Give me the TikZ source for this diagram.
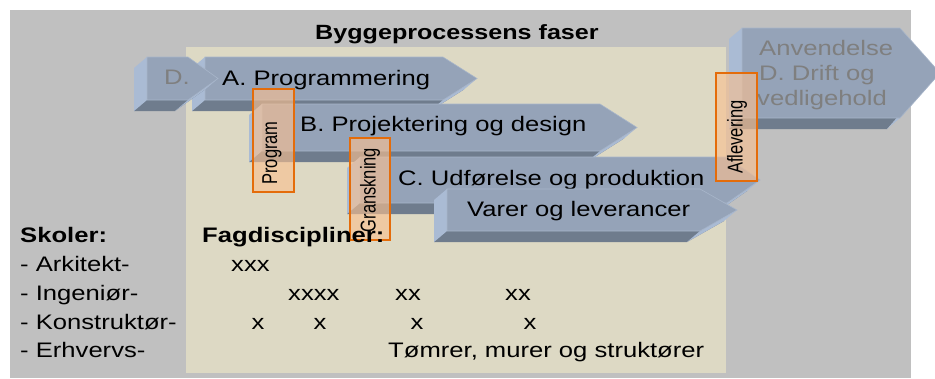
\documentclass[tikz,border=0pt]{standalone}
\usepackage{fontspec}
\setmainfont{Liberation Sans}[FakeStretch=1.22]
\newfontfamily\plainfont{Liberation Sans}
\usetikzlibrary{calc}
\definecolor{bggray}{HTML}{C0C0C0}
\definecolor{beige}{HTML}{DDD9C4}
\definecolor{frontface}{HTML}{95A3B8}
\definecolor{leftface}{HTML}{AABBD4}
\definecolor{darkface}{HTML}{6F7C8D}
\definecolor{edgecol}{HTML}{A8B6CA}
\definecolor{greytext}{HTML}{7F7F7F}
\definecolor{orangeline}{HTML}{E46C0A}
\definecolor{orangefill}{HTML}{FAC090}
\tikzset{
  txt/.style={font=\fontsize{21}{25}\selectfont, inner sep=0pt, anchor=base west, text=black},
  boldtxt/.style={txt, font=\fontsize{21}{25}\selectfont\bfseries},
  titletxt/.style={txt, font=\fontsize{20.6}{25}\selectfont\bfseries},
  gtxt/.style={txt, text=greytext},
  vbox/.style={draw=orangeline, line width=1.3pt, fill=orangefill, fill opacity=0.62},
  vtxt/.style={rotate=90, inner sep=0pt, font=\plainfont\fontsize{16.5}{18}\selectfont, text=black},
}
\newcommand\phasearrow[5]{%
  \pgfmathsetmacro\pmidy{(#4+#5)/2}%
  \fill[darkface] (#1-13,#4+11) -- (#2-13,#4+11) -- (#3-13,\pmidy+11) -- (#2-13,#5+11) -- (#1-13,#5+11) -- cycle;
  \fill[leftface] (#1,#4) -- (#1-13,#4+11) -- (#1-13,#5+11) -- (#1,#5) -- cycle;
  \fill[leftface] (#2,#5) -- (#3,\pmidy) -- (#3-13,\pmidy+11) -- (#2-13,#5+11) -- cycle;
  \fill[frontface, draw=edgecol, line width=0.6pt] (#1,#4) -- (#2,#4) -- (#3,\pmidy) -- (#2,#5) -- (#1,#5) -- cycle;
}
\begin{document}
\begin{tikzpicture}[x=1pt,y=-1pt]
\clip (0,0) rectangle (935,378);
\fill[white] (0,0) rectangle (935,378);
\fill[bggray] (10,10) rectangle (911,378);
\fill[beige] (186,47) rectangle (726,373);
\node[titletxt] (title) at (315,39) {Byggeprocessens faser};
% arrows
\phasearrow{205}{443}{477}{57}{100}
\node[txt] (a) at (222,85) {A. Programmering};
\phasearrow{147}{188}{218}{57}{100}
\node[gtxt] (d) at (164,84) {D.};
\phasearrow{262}{600}{637}{104}{151}
\node[txt] (b) at (300,131.5) {B. Projektering og design};
\phasearrow{360}{727}{760}{157}{203}
\node[txt] (c) at (398,185) {C. Udførelse og produktion};
\phasearrow{447}{700}{737}{189}{231}
\node[txt] (v) at (467,216.5) {Varer og leverancer};
\phasearrow{742}{900}{940}{28}{118}
\node[gtxt] (anv1) at (759,55) {Anvendelse};
\node[gtxt] (anv2) at (759,80) {D. Drift og};
\node[gtxt] (anv3) at (757,105) {vedligehold};
% milestone boxes
\path[vbox] (253,89) rectangle (294,192);
\node[vtxt] (prog) at (272,153) {\scalebox{1}[1.3]{Program}};
\path[vbox] (350,138) rectangle (390,240);
\node[vtxt] (gran) at (370,190) {\scalebox{1}[1.3]{Granskning}};
\path[vbox] (716,73) rectangle (757,181);
\node[vtxt] (afl) at (737,137) {\scalebox{1}[1.3]{Aflevering}};
% schools
\node[boldtxt] (sk) at (20,242) {Skoler:};
\node[txt] (ark) at (20,271) {- Arkitekt-};
\node[txt] (ing) at (20,300) {- Ingeniør-};
\node[txt] (kon) at (20,329) {- Konstruktør-};
\node[txt] (erh) at (20,357) {- Erhvervs-};
\node[boldtxt] (fag) at (202,242) {Fagdiscipliner:};
\node[txt] (x1) at (231,271) {xxx};
\node[txt] (x2) at (288,300) {xxxx};
\node[txt] (x3) at (395,300) {xx};
\node[txt] (x4) at (505,300) {xx};
\node[txt, anchor=base] (x5) at (258,329) {x};
\node[txt, anchor=base] (x6) at (320,329) {x};
\node[txt, anchor=base] (x7) at (417,329) {x};
\node[txt, anchor=base] (x8) at (530,329) {x};
\node[txt] (tom) at (388,357) {Tømrer, murer og struktører};
\end{tikzpicture}
\end{document}
